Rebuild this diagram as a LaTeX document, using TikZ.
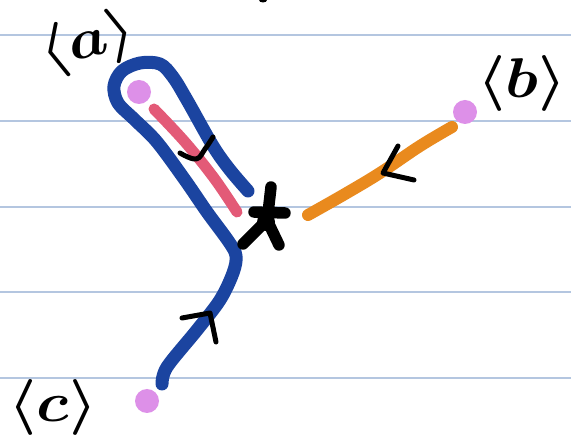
\documentclass[tikz,border=0pt]{standalone}
\usepackage{graphicx}
\definecolor{rulecol}{RGB}{180,198,224}
\definecolor{penblue}{RGB}{27,68,160}
\definecolor{penred}{RGB}{227,90,119}
\definecolor{penorange}{RGB}{233,138,30}
\definecolor{dotpink}{RGB}{221,144,232}
\newcommand{\biglbl}[1]{\scalebox{6.3}[5.6]{\boldmath$\langle #1\rangle$}}
\begin{document}
\begin{tikzpicture}[x=1pt,y=-1pt,
  rule/.style={draw=rulecol, line width=1.3pt},
  pen/.style={line cap=round, line join=round},
  bluepen/.style={pen, draw=penblue, line width=13pt},
  redpen/.style={pen, draw=penred, line width=11pt},
  orangepen/.style={pen, draw=penorange, line width=12pt},
  inkpen/.style={pen, draw=black, line width=5pt},
  starpen/.style={pen, draw=black, line width=11.5pt},
  dot/.style={circle, fill=dotpink, minimum size=24pt, inner sep=0pt},
  lbl/.style={inner sep=0pt}]
\useasboundingbox[fill=white] (0,0) rectangle (571,438);
% ruled paper
\foreach \yy in {35,121,207,292,378} \draw[rule] (0,\yy) -- (571,\yy);
% tiny mark at top edge
\fill (263,0) ellipse (4pt and 2.5pt);
% points
\node[dot] (a) at (139,92) {};
\node[dot] (b) at (465,112) {};
\node[dot] (c) at (147,401) {};
\coordinate (star) at (267,220);
% blue path from c to star, looping around a
\draw[bluepen] plot[smooth, tension=0.55] coordinates {
  (162,384) (167,367) (197,330) (220,300) (233,273) (236,256) (229,242)
  (207,212) (185,180) (157,142) (135,120) (118,103) (114,86) (122,71)
  (140,63) (160,64) (173,77) (187,100) (213,146) (230,170) (248,191)};
% red path from a to star
\draw[redpen] plot[smooth, tension=0.6] coordinates {(154,109) (185,142) (214,178) (237,212)};
% orange path from star to b
\draw[orangepen] plot[smooth, tension=0.6] coordinates {(308,215) (345,194) (380,173) (420,146) (452,127)};
% star
\draw[starpen] (271,187) -- (267,222);
\draw[starpen] (254,212) -- (285,213);
\draw[starpen] (267,220) -- (243,244);
\draw[starpen] (267,220) -- (279,245);
\fill (266,222) circle (9pt);
% direction marks
\draw[inkpen] plot[smooth, tension=0.7] coordinates {(180,153) (196,159) (205,149) (213,137)};
\draw[inkpen] (398,146) -- (383,173) -- (414,180);
\draw[inkpen] (182,318) -- (210,313) -- (216,342);
% labels
\node[lbl, rotate=14] (la) at (88,43) {\biglbl{a}};
\node[lbl] (lb) at (522,84) {\biglbl{b}};
\node[lbl] (lc) at (53,408) {\biglbl{c}};
\end{tikzpicture}
\end{document}
